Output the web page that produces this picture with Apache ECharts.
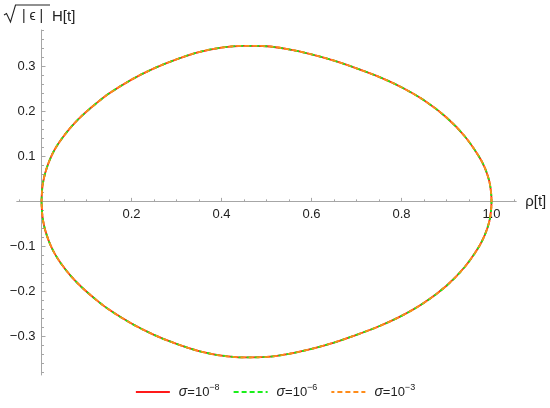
<!DOCTYPE html>
<html>
<head>
<meta charset="utf-8">
<script src="https://cdn.jsdelivr.net/npm/echarts@6/dist/echarts.min.js"></script>
<style>html,body{margin:0;padding:0;background:#fff}#c{width:550px;height:408px}</style>
</head>
<body>
<div id="c"></div>
<script>
// Upper branch (rho from 0 to 1) and lower branch (rho from 1 back to 0)
const rhoUpper = [0, 0.002, 0.006, 0.012, 0.02, 0.03, 0.045, 0.065, 0.09, 0.12, 0.15, 0.2, 0.25, 0.3, 0.35, 0.4, 0.45, 0.5, 0.55, 0.6, 0.65, 0.7, 0.75, 0.8, 0.85, 0.9, 0.94, 0.97, 0.985, 0.995, 0.999, 1.0];
const hUpper   = [0, 0.032, 0.054, 0.075, 0.096, 0.116, 0.139, 0.164, 0.190, 0.216, 0.239, 0.270, 0.295, 0.315, 0.331, 0.341, 0.345, 0.344, 0.337, 0.326, 0.312, 0.295, 0.276, 0.253, 0.224, 0.186, 0.145, 0.103, 0.075, 0.045, 0.020, 0];
const rhoLower = [0.999, 0.995, 0.985, 0.97, 0.94, 0.9, 0.85, 0.8, 0.75, 0.7, 0.65, 0.6, 0.55, 0.5, 0.45, 0.4, 0.35, 0.3, 0.25, 0.2, 0.15, 0.12, 0.09, 0.065, 0.045, 0.03, 0.02, 0.012, 0.006, 0.002, 0];
const hLower   = [-0.020, -0.045, -0.075, -0.104, -0.146, -0.187, -0.225, -0.254, -0.277, -0.296, -0.313, -0.327, -0.338, -0.345, -0.346, -0.342, -0.332, -0.316, -0.296, -0.271, -0.240, -0.217, -0.191, -0.165, -0.140, -0.117, -0.097, -0.076, -0.055, -0.032, 0];

const seriesNames = ['σ=10^-8', 'σ=10^-6', 'σ=10^-3'];
const seriesColors = ['#ff1a1a', '#1aef1a', '#ff8c1a'];

const xMajor = [0.2, 0.4, 0.6, 0.8, 1.0];
const xMinor = [-0.05, 0.05, 0.1, 0.15, 0.25, 0.3, 0.35, 0.45, 0.5, 0.55, 0.65, 0.7, 0.75, 0.85, 0.9, 0.95, 1.05];
const yMajor = [-0.3, -0.2, -0.1, 0.1, 0.2, 0.3];
const yMinor = [-0.38, -0.36, -0.34, -0.32, -0.28, -0.26, -0.24, -0.22, -0.18, -0.16, -0.14, -0.12, -0.08, -0.06, -0.04, -0.02, 0.02, 0.04, 0.06, 0.08, 0.12, 0.14, 0.16, 0.18, 0.22, 0.24, 0.26, 0.28, 0.32, 0.34, 0.36, 0.38];

const loop = rhoUpper.map((r, i) => [r, hUpper[i]]).concat(rhoLower.map((r, i) => [r, hLower[i]]));

const FONT = 'Liberation Sans, Arial, sans-serif';
const AX = '#a6a6a6';
const TXT = '#222';
const fmtNum = v => (Math.abs(v) < 1e-9 ? '0' : v.toFixed(1)).replace('-', '\u2212');

const XMIN = -0.055, XMAX = 1.055, YMIN = -0.385, YMAX = 0.38;
const W = 550, H = 408;
const G = {left: 16.75, right: 33.75, top: 30, bottom: 33};
const plotW = W - G.left - G.right, plotH = H - G.top - G.bottom;
const x0px = G.left + (0 - XMIN) / (XMAX - XMIN) * plotW;   // pixel of rho = 0
const y0px = G.top + (YMAX - 0) / (YMAX - YMIN) * plotH;    // pixel of H = 0

const base = {containLabel: false, outerBoundsMode: 'none'};
const grids = [
  Object.assign({}, base, G),                                                         // 0: data
  Object.assign({}, base, {left: G.left, right: G.right, top: G.top, bottom: H - y0px}), // 1: x axis major
  Object.assign({}, base, {left: G.left, right: G.right, top: G.top, bottom: H - y0px}), // 2: x axis minor
  Object.assign({}, base, {left: x0px, right: G.right, top: G.top, bottom: G.bottom}),  // 3: y axis major
  Object.assign({}, base, {left: x0px, right: G.right, top: G.top, bottom: G.bottom})   // 4: y axis minor
];
const hidden = (gi) => ({type: 'value', gridIndex: gi, show: false, min: 0, max: 1});

const chart = echarts.init(document.getElementById('c'), null, {renderer: 'canvas'});
chart.setOption({
  animation: false,
  backgroundColor: '#fff',
  grid: grids,
  xAxis: [
    {type: 'value', gridIndex: 0, show: false, min: XMIN, max: XMAX},
    {
      type: 'value', min: XMIN, max: XMAX, gridIndex: 1, position: 'bottom',
      name: 'ρ[t]', nameLocation: 'end', nameGap: 9,
      nameTextStyle: {fontFamily: FONT, fontSize: 15, color: TXT, verticalAlign: 'middle'},
      axisLine: {show: true, onZero: false, lineStyle: {color: AX, width: 1}},
      axisTick: {show: true, inside: true, length: 3.5, customValues: xMajor, lineStyle: {color: AX}},
      axisLabel: {show: true, customValues: xMajor, margin: 7, fontFamily: FONT, fontSize: 13, color: TXT, formatter: fmtNum},
      splitLine: {show: false}
    },
    {
      type: 'value', min: XMIN, max: XMAX, gridIndex: 2, position: 'bottom',
      axisLine: {show: false, onZero: false},
      axisTick: {show: true, inside: true, length: 2, customValues: xMinor, lineStyle: {color: AX}},
      axisLabel: {show: false},
      splitLine: {show: false}
    },
    hidden(3), hidden(4)
  ],
  yAxis: [
    {type: 'value', gridIndex: 0, show: false, min: YMIN, max: YMAX},
    hidden(1), hidden(2),
    {
      type: 'value', min: YMIN, max: YMAX, gridIndex: 3, position: 'left',
      axisLine: {show: true, onZero: false, lineStyle: {color: AX, width: 1}},
      axisTick: {show: true, inside: true, length: 4, customValues: yMajor, lineStyle: {color: AX}},
      axisLabel: {show: true, customValues: yMajor, margin: 6, fontFamily: FONT, fontSize: 13, color: TXT, formatter: fmtNum},
      splitLine: {show: false}
    },
    {
      type: 'value', min: YMIN, max: YMAX, gridIndex: 4, position: 'left',
      axisLine: {show: false, onZero: false},
      axisTick: {show: true, inside: true, length: 2.5, customValues: yMinor, lineStyle: {color: AX}},
      axisLabel: {show: false},
      splitLine: {show: false}
    }
  ],
  legend: {
    show: true, bottom: 4, left: 'center',
    itemWidth: 34, itemHeight: 12, itemGap: 13,
    data: seriesNames,
    itemStyle: {opacity: 0},
    textStyle: {
      fontFamily: FONT, fontSize: 13, color: TXT, padding: [0, 0, 0, 4],
      rich: {
        s: {fontFamily: FONT, fontSize: 14, fontStyle: 'italic', color: TXT},
        t: {fontFamily: FONT, fontSize: 13, color: TXT},
        u: {fontFamily: FONT, fontSize: 9, color: TXT, padding: [0, 0, 8, 0]}
      }
    },
    formatter: function (name) {
      const exp = name.split('^')[1].replace('-', '\u2212');
      return '{s|σ}{t|=10}{u|' + exp + '}';
    }
  },
  graphic: [
    {type: 'polyline', shape: {points: [[4, 15], [6.5, 13.5], [10.5, 22], [15.5, 5], [50, 5]]}, style: {stroke: TXT, lineWidth: 1.1, fill: null}},
    {type: 'text', left: 22, top: 9, style: {text: '| ϵ |', fontFamily: FONT, fontSize: 14, fill: TXT}},
    {type: 'text', left: 52, top: 9, style: {text: 'H[t]', fontFamily: FONT, fontSize: 15, fill: TXT}}
  ],
  series: seriesNames.map((nm, i) => ({
    name: nm,
    type: 'line',
    xAxisIndex: 0, yAxisIndex: 0,
    data: loop,
    smooth: 0.35,
    showSymbol: false, symbol: 'none',
    clip: false,
    lineStyle: {
      color: seriesColors[i],
      width: 1.8,
      type: i === 0 ? 'solid' : [5, 3],
      dashOffset: i === 2 ? 2 : 0
    },
    itemStyle: {color: seriesColors[i]},
    z: 2 + i
  }))
});
</script>
</body>
</html>
